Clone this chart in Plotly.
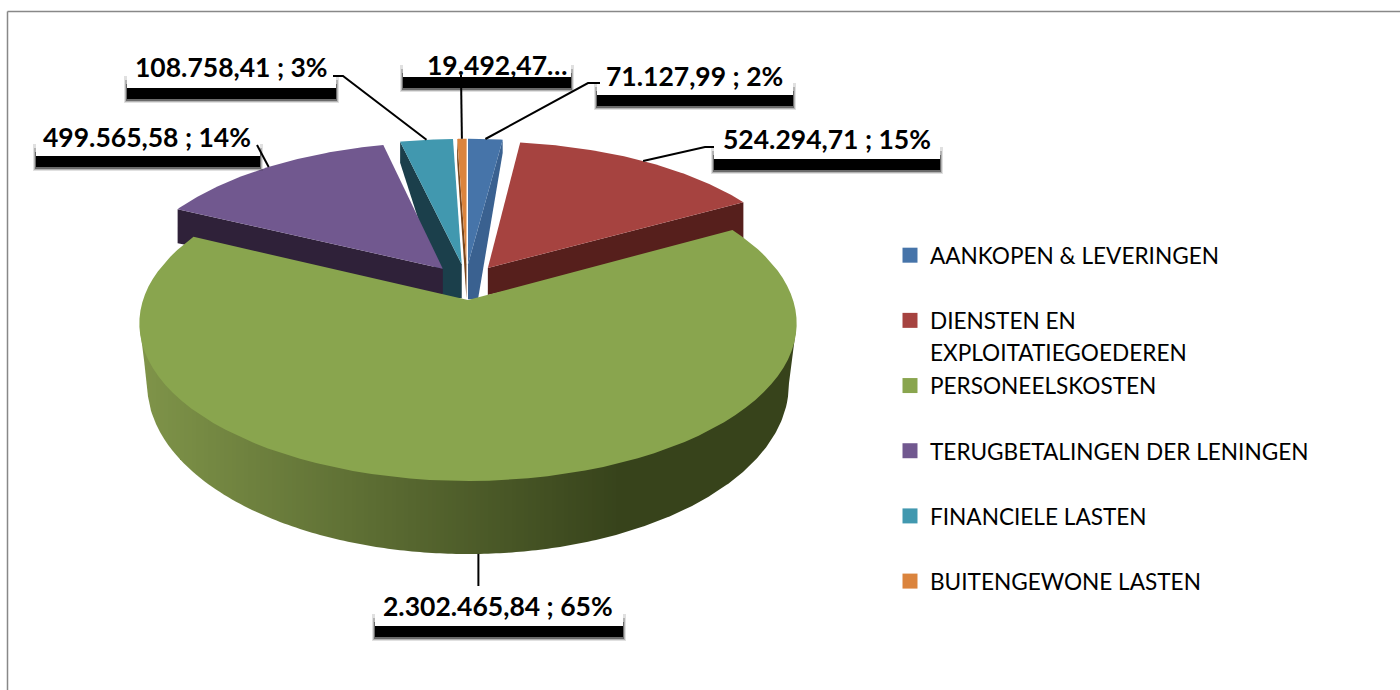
import numpy as np
import plotly.graph_objects as go

# ---- data ----
categories = ["AANKOPEN & LEVERINGEN", "DIENSTEN EN", "PERSONEELSKOSTEN",
              "TERUGBETALINGEN DER LENINGEN", "FINANCIELE LASTEN", "BUITENGEWONE LASTEN"]
category_second_line = "EXPLOITATIEGOEDEREN"
values = [71127.99, 524294.71, 2302465.84, 499565.58, 108758.41, 19492.47]
value_labels = ["71.127,99 ; 2%", "524.294,71 ; 15%", "2.302.465,84 ; 65%",
                "499.565,58 ; 14%", "108.758,41 ; 3%", "19.492,47…"]
colors = ["#4674A9", "#A64340", "#89A54E", "#71588F", "#4198AF", "#DB843D"]
side_colors = ["#3A6190", "#561F1C", "#37431B", "#2F2139", "#1B3F4B", "#7A461C"]

# ---- projection of the tilted disc (style only) ----
CX, CY, AX, BY, KP = 468, 300, 325, 154, 0.149
BOT_CY, BOT_AX, BOT_BY, BOT_KP = 334, 306, 154, 0.30
# slice explosion offsets, in disc radii
explode = [(0.0, 0.24), (0.063, 0.214), (0.0, 0.0), (-0.08, 0.21), (-0.02, 0.24), (-0.005, 0.24)]
# side-face depth in px at (apex, rim), lower apex shift, and the edge which shows it (0 start / 1 end)
depths = [(35, 13), (27, 36), None, (27, 34), (34, 21), (34, 21)]
face_dx = [10, 0, 0, 0, -18, 0]
face_edge = [1, 1, None, 0, 0, 0]
draw_order = [4, 5, 0, 1, 3, 2]


def top(X, Y):
    w = 1 + KP * np.asarray(Y)
    return CX + AX * np.asarray(X) / w, CY - BY * np.asarray(Y) / w


def bottom(X, Y):
    w = 1 + BOT_KP * np.asarray(Y)
    return CX + BOT_AX * np.asarray(X) / w, BOT_CY - BOT_BY * np.asarray(Y) / w


total = sum(values)
edges = np.concatenate([[0], np.cumsum(values)]) / total * 2 * np.pi


def rim(a0, a1, ox=0.0, oy=0.0, n=80):
    t = np.linspace(a0, a1, n)
    return np.sin(t) + ox, np.cos(t) + oy


fig = go.Figure()


def poly(x, y, color, name=None, line=0):
    fig.add_trace(go.Scatter(x=list(x), y=list(y), mode="lines", fill="toself", fillcolor=color,
                             line=dict(color=color, width=line), hoverinfo="skip",
                             name=name, showlegend=False))


# green outer wall: vertical strips shaded left to right
t_front = np.linspace(np.pi / 2 - 0.6, 3 * np.pi / 2 + 0.6, 1200)
fx, fy = np.sin(t_front), np.cos(t_front)
tx, ty = top(fx, fy)
bx, by = bottom(fx, fy)
t_l, t_r = np.argmin(tx), np.argmax(tx)
b_l, b_r = np.argmin(bx), np.argmax(bx)
low_x, low_y = bx[b_r:b_l + 1][::-1], by[b_r:b_l + 1][::-1]


def wall_low(x):
    y = np.interp(x, low_x, low_y)
    y = np.where(x < bx[b_l], ty[t_l] + (x - tx[t_l]) / (bx[b_l] - tx[t_l]) * (by[b_l] - ty[t_l]), y)
    y = np.where(x > bx[b_r], ty[t_r] + (tx[t_r] - x) / (tx[t_r] - bx[b_r]) * (by[b_r] - ty[t_r]), y)
    return y


xl, xr = int(np.floor(tx.min())) + 1, int(np.ceil(tx.max())) - 1
step = 4
grad_end = 620
for xa in range(xl, xr, step):
    xb = xr if xa >= grad_end else min(xa + step, xr)
    xs = np.arange(xa, xb + 1, 1.0)
    low = wall_low(xs)
    f = np.clip((xa + step / 2 - xl) / (grad_end - xl), 0, 1)
    c = tuple(int(round(p + (q - p) * f)) for p, q in zip((127, 148, 73), (55, 67, 27)))
    poly(np.r_[xs, xs[::-1]], np.r_[low, np.full(xs.size, CY + 20.0)], "rgb(%d,%d,%d)" % c)
    if xa >= grad_end:
        break

for i in draw_order:
    ox, oy = explode[i]
    a0, a1 = edges[i], edges[i + 1]
    if depths[i] is not None:
        d_a, d_r = depths[i]
        ang = a1 if face_edge[i] else a0
        px, py = top([ox, np.sin(ang) + ox], [oy, np.cos(ang) + oy])
        poly([px[0], px[1], px[1], px[0] + face_dx[i], px[0]],
             [py[0], py[1], py[1] + d_r, py[0] + d_a, py[0] + d_a], side_colors[i])
    X, Y = rim(a0, a1, ox, oy)
    sx, sy = top(np.r_[ox, X], np.r_[oy, Y])
    poly(sx, sy, colors[i], name=categories[i])

# legend entries
for i, c in enumerate(categories):
    fig.add_trace(go.Scatter(x=[None], y=[None], mode="markers", name=c, legendgroup=c,
                             marker=dict(symbol="square", size=15, color=colors[i]),
                             showlegend=True, hoverinfo="skip"))

# ---- data labels (box x0, y0, x1, y1; knee of leader) ----
boxes = [(597, 57, 793, 95), (714, 120, 940, 159), (375, 586, 623, 626),
         (36, 118, 260, 156), (127, 50, 336, 88), (403, 50, 571, 77)]
text_y = [76, 139, 606, 137, 67, 65]
text_x = [694, 826.5, 498, 147, 231.5, 497]
leader_mid = [[(588, 83), (600, 83)], [(705, 147), (714, 147)], [],
              [(257, 145)], [(343, 76), (333, 76)], [(461, 75)]]

shapes = [
    dict(type="line", x0=7.5, x1=1400, y0=11.5, y1=11.5, line=dict(color="#888888", width=1.5), layer="below"),
    dict(type="line", x0=7.5, x1=7.5, y0=11.5, y1=690, line=dict(color="#888888", width=1.5), layer="below"),
]
annotations = []
for i, (x0, y0, x1, y1) in enumerate(boxes):
    for grow, up, down, op in [(3, 12, 15, 0.12), (2, 8, 14, 0.2), (1, 4, 13, 0.4), (0, 0, 11, 1.0)]:
        shapes.append(dict(type="rect", x0=x0 - grow, x1=x1 + grow, y0=y1 - up, y1=y1 + down,
                           fillcolor="black", opacity=op, line=dict(width=0), layer="above"))
    shapes.append(dict(type="rect", x0=x0, x1=x1, y0=y0 - 6, y1=y1, fillcolor="white",
                       line=dict(width=0), layer="above"))
    annotations.append(dict(x=text_x[i], y=text_y[i], text="<b>%s</b>" % value_labels[i], showarrow=False,
                            xanchor="center", yanchor="middle",
                            font=dict(family="Lato", size=26.5, color="#000000")))
    # leader from the middle of the rim
    ox, oy = explode[i]
    mid = (edges[i] + edges[i + 1]) / 2
    if i == 2:
        ax, ay = bottom(np.sin(mid) - 0.005, np.cos(mid))
        pts = [(float(ax), 586)]
    else:
        ax, ay = top(np.sin(mid) + ox, np.cos(mid) + oy)
        pts = leader_mid[i]
    lx = [float(ax)] + [p[0] for p in pts]
    ly = [float(ay)] + [p[1] for p in pts]
    shapes.append(dict(type="path", path="M" + " L".join("%.1f,%.1f" % p for p in zip(lx, ly)),
                       line=dict(color="black", width=2), layer="above"))

annotations.append(dict(x=928, y=352, text=category_second_line, showarrow=False, xanchor="left", yanchor="middle",
                        font=dict(family="Lato", size=22.6, color="#000000")))

fig.update_layout(
    width=1400, height=690, margin=dict(l=0, r=0, t=0, b=0), paper_bgcolor="white", plot_bgcolor="white",
    xaxis=dict(range=[0, 1400], visible=False, fixedrange=True),
    yaxis=dict(range=[690, 0], visible=False, fixedrange=True),
    shapes=shapes, annotations=annotations,
    legend=dict(x=890 / 1400, y=1 - 234 / 690, xanchor="left", yanchor="top", tracegroupgap=32.8,
                font=dict(family="Lato", size=22.6, color="#000000"), bgcolor="rgba(0,0,0,0)",
                itemclick=False, itemdoubleclick=False),
)

fig.write_html("out.html", config=dict(displayModeBar=False),
               post_script="document.body.style.margin='0';document.body.style.overflow='hidden';")
